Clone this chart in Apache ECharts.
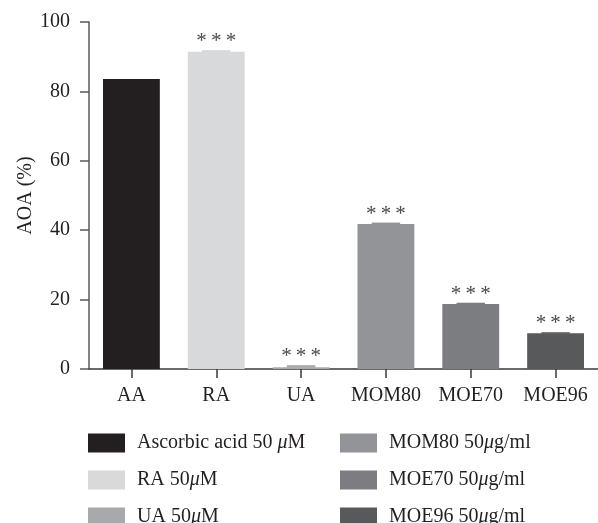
<!DOCTYPE html>
<html>
<head>
<meta charset="utf-8">
<script src="https://cdn.jsdelivr.net/npm/echarts@6/dist/echarts.min.js"></script>
<style>html,body{margin:0;padding:0;background:#fff;}#c{width:598px;height:523px;}</style>
</head>
<body>
<div id="c"></div>
<script>
var categories = ['AA', 'RA', 'UA', 'MOM80', 'MOE70', 'MOE96'];
var values = [83.6, 91.4, 0.5, 41.8, 18.7, 10.3];
var errors = [0, 0.5, 0.6, 0.4, 0.4, 0.3];
var signif = ['', '***', '***', '***', '***', '***'];
var legendNames = ['Ascorbic acid 50 \u03bcM', 'RA 50\u03bcM', 'UA 50\u03bcM', 'MOM80 50\u03bcg/ml', 'MOE70 50\u03bcg/ml', 'MOE96 50\u03bcg/ml'];
var colors = ['#231f20', '#d8d9db', '#a8a9ab', '#939497', '#7c7d80', '#58595b'];
var yTicks = [0, 20, 40, 60, 80, 100];

var FONT = '"Liberation Serif", "DejaVu Serif", serif';
var chart = echarts.init(document.getElementById('c'), null, {renderer: 'canvas'});

var series = categories.map(function (c, i) {
  return {
    name: legendNames[i],
    type: 'bar',
    barWidth: '67%',
    barGap: '-100%',
    itemStyle: {color: colors[i]},
    data: categories.map(function (_, j) { return j === i ? values[j] : '-'; }),
    z: 2
  };
});

series.push({
  type: 'custom',
  name: 'err',
  z: 3,
  data: categories.map(function (c, i) { return [i, values[i], errors[i]]; }),
  renderItem: function (params, api) {
    var i = api.value(0);
    var v = api.value(1);
    var e = api.value(2);
    var base = api.coord([i, v]);
    var top = api.coord([i, v + e]);
    var bw = api.size([1, 0])[0] * 0.67 * 0.5;
    var children = [];
    if (e > 0) {
      children.push({
        type: 'rect',
        shape: {x: base[0] - bw / 2, y: top[1], width: bw, height: base[1] - top[1] + 0.5},
        style: {fill: colors[i]}
      });
    }
    if (signif[i]) {
      children.push({
        type: 'text',
        style: {
          text: signif[i].split('').join('\u2009'),
          x: top[0],
          y: top[1] - 8.5,
          align: 'center',
          verticalAlign: 'middle',
          fill: '#4a4a4c',
          font: '21px ' + FONT
        }
      });
    }
    return {type: 'group', children: children};
  }
});

function legendRich() {
  return {
    n: {fontFamily: FONT, fontSize: 20, color: '#231f20'},
    i: {fontFamily: FONT, fontSize: 20, fontStyle: 'italic', color: '#231f20'}
  };
}
function legendFmt(name) {
  var parts = name.split('\u03bc');
  return '{n|' + parts[0] + '}{i|\u03bc}{n|' + parts[1] + '}';
}

var legendCommon = {
  orient: 'vertical', top: 433, height: 110,
  icon: 'rect', itemWidth: 37, itemHeight: 19, itemGap: 17,
  padding: 0,
  formatter: legendFmt,
  textStyle: {rich: legendRich(), padding: [0, 0, 0, 7]},
  selectedMode: false
};

var option = {
  backgroundColor: '#fff',
  animation: false,
  grid: {left: 89, top: 22, bottom: 154, width: 520, containLabel: false},
  legend: [
    Object.assign({}, legendCommon, {data: legendNames.slice(0, 3), left: 88}),
    Object.assign({}, legendCommon, {data: legendNames.slice(3), left: 340})
  ],
  xAxis: {
    type: 'category',
    data: categories,
    axisLine: {lineStyle: {color: '#3a3a3c', width: 1.5}},
    axisTick: {show: true, alignWithLabel: true, length: 9, lineStyle: {color: '#3a3a3c', width: 1.5}},
    axisLabel: {fontFamily: FONT, fontSize: 20, color: '#231f20', margin: 17, interval: 0, hideOverlap: false}
  },
  yAxis: {
    type: 'value',
    min: 0, max: 100, interval: 20,
    name: 'AOA (%)',
    nameLocation: 'middle',
    nameGap: 53,
    nameMoveOverlap: false,
    nameTextStyle: {fontFamily: FONT, fontSize: 20, color: '#231f20'},
    axisLine: {show: true, lineStyle: {color: '#58595b', width: 1.5}},
    axisTick: {show: true, length: 9, lineStyle: {color: '#58595b', width: 1.5}},
    axisLabel: {fontFamily: FONT, fontSize: 20, color: '#231f20', margin: 19,
      formatter: function (v) { return yTicks.indexOf(v) >= 0 ? String(v) : ''; }},
    splitLine: {show: false}
  },
  series: series
};
chart.setOption(option);
</script>
</body>
</html>
